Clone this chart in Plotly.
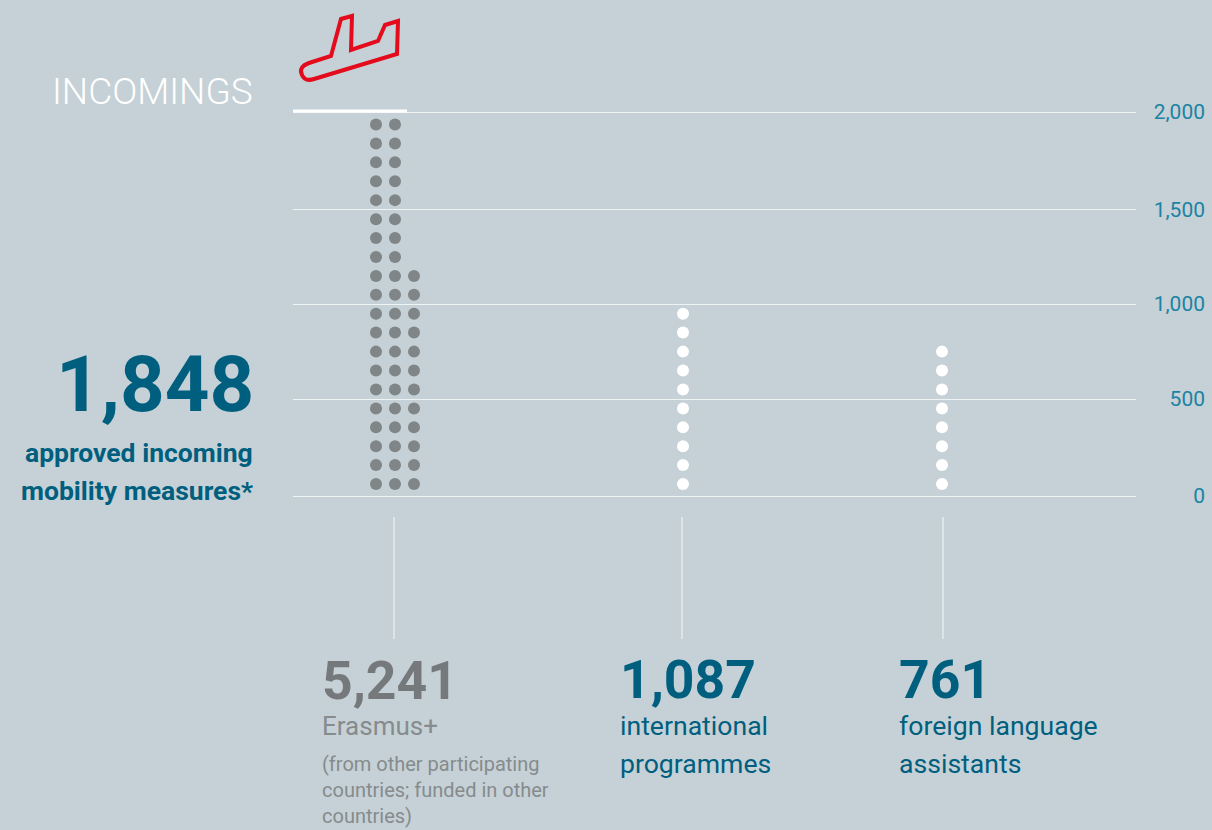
import plotly.graph_objects as go

BG = "#c5d1d6"
TEAL = "#005f7f"
GREY = "#75797b"
GREY2 = "#868b8d"
TICK = "#1b83a3"
W, H = 1212, 830
L, R, T, B = 293, 7, 109, 331
PW, PH = W - L - R, H - T - B

# Values
row_values = [62, 161, 259, 358, 456, 555, 654, 752, 851, 949,
              1048, 1146, 1245, 1344, 1442, 1541, 1639, 1738, 1836, 1935]
erasmus_columns = [83, 102, 121]
erasmus_rows = [20, 20, 12]
intl_column = 390
intl_rows = 10
fla_column = 649
fla_rows = 8
connector_x = [101, 389, 650]
grid_values = [0, 505, 1000, 1490, 2000]
tick_labels = ["0", "500", "1,000", "1,500", "2,000"]
plane_points = [(398, 21), (385, 25), (378, 41), (351, 50), (352, 16), (341, 19), (331, 56), (309, 63)]

erasmus_x, erasmus_y = [], []
for cx, n in zip(erasmus_columns, erasmus_rows):
    erasmus_x += [cx] * n
    erasmus_y += row_values[:n]

fig = go.Figure()
fig.add_trace(go.Scatter(x=erasmus_x, y=erasmus_y, mode="markers", name="Erasmus+",
                         marker=dict(size=12, color="#808587")))
fig.add_trace(go.Scatter(x=[intl_column] * intl_rows + [fla_column] * fla_rows,
                         y=row_values[:intl_rows] + row_values[:fla_rows], mode="markers", name="other",
                         marker=dict(size=12, color="white")))


def px(x):
    return (x - L) / PW


def py(y):
    return (H - B - y) / PH


for cx in connector_x:
    fig.add_shape(type="line", xref="x", yref="paper", x0=cx, x1=cx, y0=py(517), y1=py(639),
                  line=dict(color="#eef2f3", width=1.2))


def label(x, y, text, size, color, anchor="left", weight=400, family="Roboto"):
    fig.add_annotation(xref="paper", yref="paper", x=px(x), y=py(y), text=text, showarrow=False,
                       xanchor=anchor, yanchor="middle", borderpad=0,
                       font=dict(family=family, size=size, color=color, weight=weight))


label(51, 92, "INCOMINGS", 37, "white", weight=300)
label(255, 384, "1,848", 78, TEAL, "right", 700)
label(254, 452, "approved incoming", 26.5, TEAL, "right", 700)
label(254, 490, "mobility measures*", 26.5, TEAL, "right", 700)
label(321, 680, "5,241", 53.5, GREY, weight=700)
label(321, 726, "Erasmus+", 26, GREY2)
label(321, 764, "(from other participating", 20, GREY2)
label(321, 790, "countries; funded in other", 20, GREY2)
label(321, 816, "countries)", 20, GREY2)
label(619, 679.5, "1,087", 53.5, TEAL, weight=700)
label(619, 725.5, "international", 26.6, TEAL)
label(619, 763.5, "programmes", 26.6, TEAL)
label(898, 679.5, "761", 53.5, TEAL, weight=700)
label(898, 725.5, "foreign language", 26.6, TEAL)
label(898, 763.5, "assistants", 26.6, TEAL)

plane = "M " + " L ".join(f"{px(x):.5f} {py(y):.5f}" for x, y in plane_points)
plane += f" Q {px(298):.5f} {py(67):.5f} {px(302):.5f} {py(75):.5f}"
plane += f" Q {px(305):.5f} {py(82):.5f} {px(314):.5f} {py(79):.5f}"
plane += f" L {px(397):.5f} {py(54):.5f} Z"
fig.add_shape(type="path", xref="paper", yref="paper", path=plane,
              line=dict(color="#e30b1c", width=4), fillcolor="rgba(0,0,0,0)")
fig.add_shape(type="line", xref="paper", yref="paper", x0=0, x1=px(407), y0=py(111), y1=py(111),
              line=dict(color="white", width=3))

fig.update_layout(
    width=W, height=H, autosize=False, showlegend=False,
    paper_bgcolor=BG, plot_bgcolor=BG,
    margin=dict(l=L, r=R, t=T, b=B),
    xaxis=dict(domain=[0, 843 / PW], range=[0, 843], visible=False, fixedrange=True),
    yaxis=dict(range=[-15.625, 2015.625], side="left", anchor="free", position=1,
               tickmode="array", tickvals=grid_values, ticktext=tick_labels,
               showgrid=True, gridcolor="#eef3f4", gridwidth=1,
               zeroline=False, showline=False, ticks="",
               tickfont=dict(family="Roboto", size=21, color=TICK)),
)
fig.write_html("out.html", config={"displayModeBar": False},
               post_script="document.body.style.margin='0';document.documentElement.style.overflow='hidden';")
